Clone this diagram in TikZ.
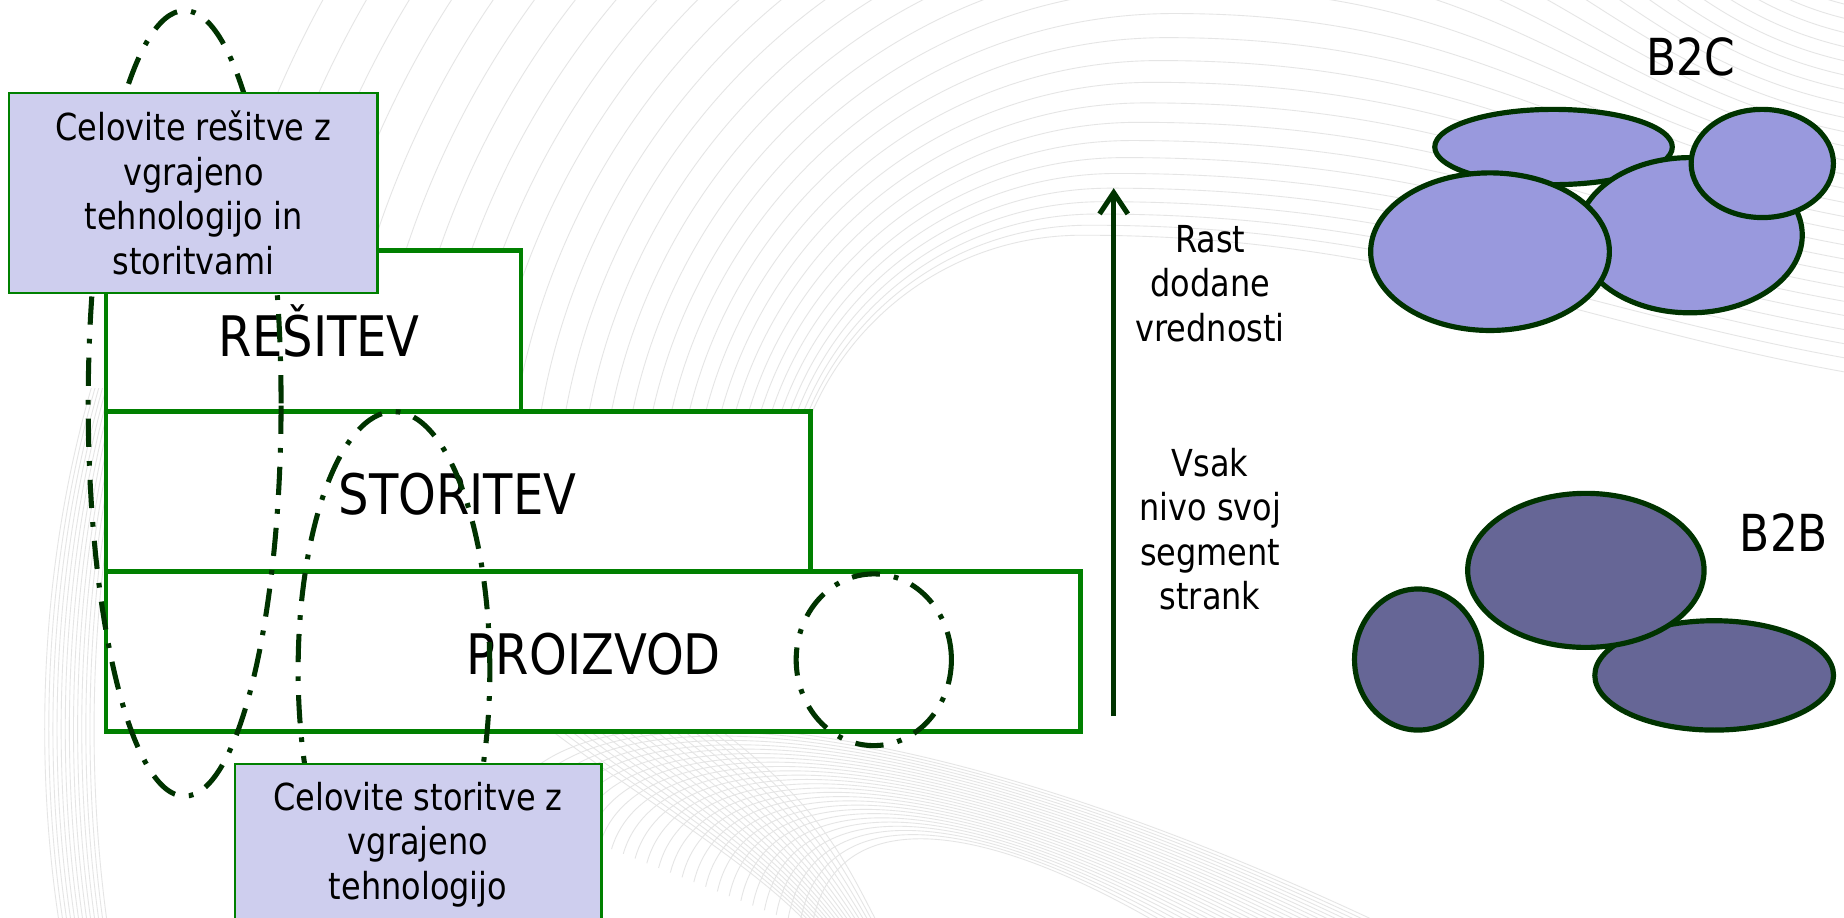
\documentclass[tikz,border=0pt]{standalone}
\usepackage{fontspec}
\setmainfont{DejaVu Sans}[FakeStretch=0.86]
\usetikzlibrary{arrows.meta,shapes.geometric}
\definecolor{boxgreen}{RGB}{0,128,0}
\definecolor{dkgreen}{RGB}{0,51,0}
\definecolor{lav}{RGB}{206,206,238}
\definecolor{bctwo}{RGB}{153,153,221}
\definecolor{bbtwo}{RGB}{102,102,150}
\definecolor{bgl}{RGB}{229,229,229}
\begin{document}
\begin{tikzpicture}[x=1pt,y=-1pt,
  bgline/.style={draw=bgl,line width=0.75pt},
  level/.style={draw=boxgreen,line width=3.9pt,fill=white,rectangle,inner sep=0pt},
  bigtext/.style={font=\fontsize{47.5}{52}\selectfont,inner sep=0pt},
  smalltext/.style={font=\fontsize{31.6}{37.8}\selectfont,align=center,inner sep=0pt},
  labelbox/.style={draw=boxgreen,line width=1.8pt,fill=lav,rectangle,inner sep=0pt,
                   font=\fontsize{31.6}{37.8}\selectfont,align=center},
  dashring/.style={draw=dkgreen,line width=4.3pt,ellipse,inner sep=0pt,
                   dash pattern=on 24pt off 12pt on 4pt off 12pt},
  segm/.style={draw=dkgreen,line width=4.4pt,ellipse,inner sep=0pt},
  btext/.style={font=\fontsize{43.4}{50}\selectfont,inner sep=0pt}
]
\useasboundingbox (0,0) rectangle (1568,780);
\fill[white] (0,0) rectangle (1568,780);

% ---------- faint background swirl ----------
\begin{scope}
\clip (0,0) rectangle (1568,780);
\foreach \k in {0,...,30}{
  \pgfmathsetmacro\myr{250+8*\k+0.5*\k*\k}
  \pgfmathsetmacro\mycx{920+6*\k}
  \pgfmathsetmacro\myry{320-12*\k}
  \draw[bgline] ({\mycx-\myr},450) .. controls ({\mycx-\myr},{450-0.5523*\myr}) and ({\mycx-0.5523*\myr},{450-\myr}) .. ({\mycx},{450-\myr}) .. controls ({\mycx+280},{450-\myr}) and (1350,{\myry-40}) .. (1590,{\myry});
}
\begin{scope}
\clip (0,330) rectangle (700,780);
\foreach \k in {0,...,12}{
  \draw[bgline] (480,620) ellipse [x radius={400+3.5*\k}, y radius={700}];
}
\end{scope}
\foreach \k in {0,...,26}{
  \pgfmathsetmacro\myt{\k/20}
  \pgfmathsetmacro\mysx{690-200*\myt}
  \pgfmathsetmacro\mysy{790-80*\myt}
  \pgfmathsetmacro\myex{1010+150*\myt}
  \pgfmathsetmacro\myay{712-70*\myt}
  \pgfmathsetmacro\myc{(\myay-0.25*(\mysy+790)/2)/0.75}
  \pgfmathsetmacro\myw{\myex-\mysx}
  \draw[bgline] (\mysx,\mysy) .. controls ({\mysx+0.05*\myw},\myc) and ({\mysx+0.42*\myw},\myc) .. (\myex,800);
}
\foreach \k in {0,...,18}{
  \draw[bgline] ({470+8*\k},622) .. controls ({560+8*\k},690) and ({650+4*\k},740) .. ({700+3*\k},800);
}
\end{scope}

% ---------- levels ----------
\node[level,minimum width=353pt,minimum height=137pt] (resitev) at (266.5,281.5) {};
\node[level,minimum width=599pt,minimum height=136pt] (storitev) at (389.5,418) {};
\node[level,minimum width=829pt,minimum height=136pt] (proizvod) at (504.5,554) {};
\node[bigtext] (tres) at (271.5,281) {REŠITEV};
\node[bigtext] (tsto) at (389,420.5) {STORITEV};
\node[bigtext] (tpro) at (505,556.4) {PROIZVOD};

% ---------- dash-dot groupings ----------
\node[dashring,minimum width=164pt,minimum height=668pt] (ringa) at (157,343) {};
\node[dashring,minimum width=163pt,minimum height=440pt] (ringb) at (335,570) {};
\node[dashring,minimum width=132pt,minimum height=146pt] (ringc) at (743,561) {};

% ---------- label boxes ----------
\node[labelbox,minimum width=313pt,minimum height=170pt] (lab1) at (164.5,164)
  {Celovite rešitve z\\vgrajeno\\tehnologijo in\\storitvami};
\node[labelbox,minimum width=312pt,minimum height=136pt] (lab2) at (355.5,718)
  {Celovite storitve z\\vgrajeno\\tehnologijo};

% ---------- arrow and its texts ----------
\coordinate (abot) at (947,609);
\coordinate (atop) at (947,160);
\draw[dkgreen,line width=4.3pt,-{Straight Barb[length=18pt,width=24pt]}] (abot) -- (atop);
\node[smalltext] (rast) at (1029,241) {Rast\\dodane\\vrednosti};
\node[smalltext] (vsak) at (1029,450) {Vsak\\nivo svoj\\segment\\strank};

% ---------- B2C segments ----------
\node[segm,fill=bctwo,minimum width=202pt,minimum height=64pt] (c1) at (1321,125) {};
\node[segm,fill=bctwo,minimum width=191pt,minimum height=132pt] (c2) at (1437,200) {};
\node[segm,fill=bctwo,minimum width=203pt,minimum height=134pt] (c3) at (1267,214) {};
\node[segm,fill=bctwo,minimum width=121pt,minimum height=92pt] (c4) at (1498.5,139) {};
\node[btext] (b2c) at (1438,48) {B2C};

% ---------- B2B segments ----------
\node[segm,fill=bbtwo,minimum width=203pt,minimum height=93pt] (d3) at (1457.6,574.3) {};
\node[segm,fill=bbtwo,minimum width=201pt,minimum height=131pt] (d1) at (1348.5,485) {};
\node[segm,fill=bbtwo,minimum width=108pt,minimum height=120pt] (d2) at (1205.8,560.8) {};
\node[btext] (b2b) at (1517,452.5) {B2B};
\end{tikzpicture}
\end{document}
